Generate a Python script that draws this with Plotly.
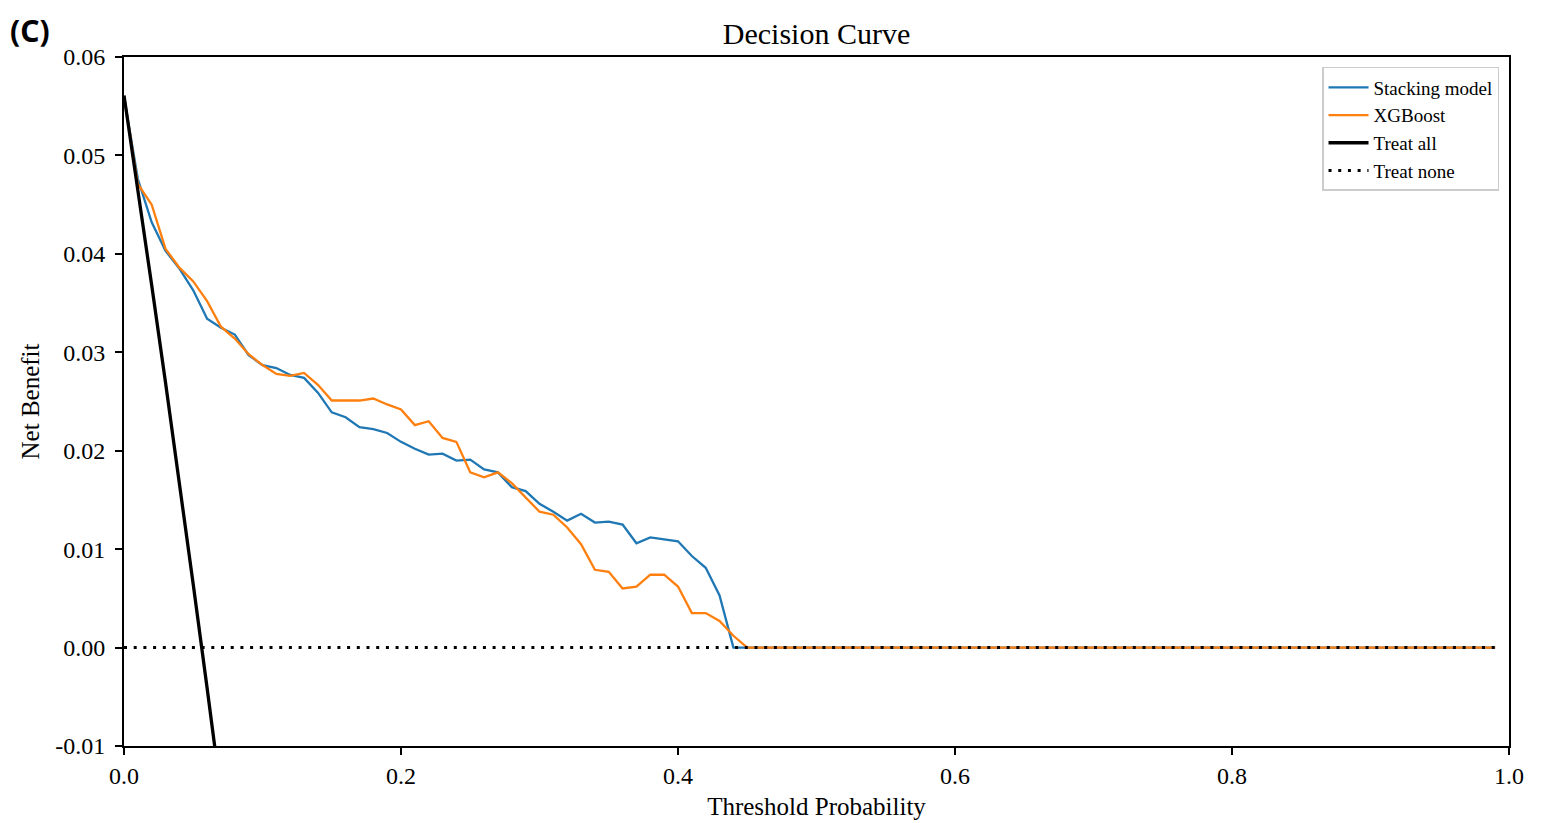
import plotly.graph_objects as go

thresholds = [round(i * 0.01, 2) for i in range(100)]

stacking_head = [0.0560, 0.0476, 0.0432, 0.0403, 0.0385, 0.0363, 0.0334, 0.0325, 0.0318, 0.0297,
                 0.0287, 0.0284, 0.0277, 0.0274, 0.0259, 0.0239, 0.0234, 0.0224, 0.0222, 0.0218,
                 0.0209, 0.0202, 0.0196, 0.0197, 0.0190, 0.0191, 0.0181, 0.0178, 0.0163, 0.0159,
                 0.0146, 0.0138, 0.0129, 0.0136, 0.0127, 0.0128, 0.0125, 0.0106, 0.0112, 0.0110,
                 0.0108, 0.0093, 0.0081, 0.0053, 0.0000]
xgboost_head = [0.0560, 0.0471, 0.0450, 0.0405, 0.0386, 0.0372, 0.0352, 0.0326, 0.0314, 0.0298,
                0.0287, 0.0278, 0.0276, 0.0279, 0.0267, 0.0251, 0.0251, 0.0251, 0.0253, 0.0247,
                0.0242, 0.0226, 0.0230, 0.0213, 0.0209, 0.0178, 0.0173, 0.0178, 0.0167, 0.0152,
                0.0138, 0.0135, 0.0122, 0.0105, 0.0079, 0.0077, 0.0060, 0.0062, 0.0074, 0.0074,
                0.0062, 0.0035, 0.0035, 0.0027, 0.0012, 0.0000]
stacking = stacking_head + [0.0] * (100 - len(stacking_head))
xgboost = xgboost_head + [0.0] * (100 - len(xgboost_head))

treat_all_x = [0.00, 0.01, 0.02, 0.03, 0.04, 0.05, 0.06, 0.07]
treat_all = [0.0561, 0.0466, 0.0368, 0.0269, 0.0168, 0.0064, -0.0041, -0.0149]
treat_none = [0.0] * 100

y_tick_vals = [-0.01, 0.00, 0.01, 0.02, 0.03, 0.04, 0.05, 0.06]
y_tick_text = ["-0.01", "0.00", "0.01", "0.02", "0.03", "0.04", "0.05", "0.06"]
x_tick_vals = [0.0, 0.2, 0.4, 0.6, 0.8, 1.0]
x_tick_text = ["0.0", "0.2", "0.4", "0.6", "0.8", "1.0"]

serif = "Liberation Serif, Times New Roman, serif"

fig = go.Figure()
fig.add_trace(go.Scatter(x=thresholds, y=stacking, mode="lines", name="Stacking model",
                         line=dict(color="#1f77b4", width=2.3)))
fig.add_trace(go.Scatter(x=thresholds, y=xgboost, mode="lines", name="XGBoost",
                         line=dict(color="#ff7f0e", width=2.3)))
fig.add_trace(go.Scatter(x=treat_all_x, y=treat_all, mode="lines", name="Treat all",
                         line=dict(color="black", width=3.3)))
fig.add_trace(go.Scatter(x=thresholds, y=treat_none, mode="lines", name="Treat none",
                         line=dict(color="black", width=3, dash="3px,6.7px")))

fig.update_layout(
    width=1536, height=815,
    margin=dict(l=116, r=35, t=49, b=77, autoexpand=False),
    paper_bgcolor="white", plot_bgcolor="white",
    font=dict(family=serif, size=24, color="black"),
    title=dict(text="Decision Curve", x=0.5264, xanchor="center", y=0.969, yanchor="middle",
               font=dict(family=serif, size=30, color="black")),
    showlegend=True,
    legend=dict(x=0.9928, y=0.9855, xanchor="right", yanchor="top",
                bgcolor="rgba(255,255,255,0.9)", bordercolor="#cccccc", borderwidth=1.5,
                font=dict(family=serif, size=19, color="black"),
                tracegroupgap=0, itemwidth=40),
)
fig.update_xaxes(range=[0, 1], tickvals=x_tick_vals, ticktext=x_tick_text,
                 showgrid=False, zeroline=False, showline=True, mirror=True,
                 linecolor="black", linewidth=2, ticks="outside", ticklen=7, tickwidth=2,
                 tickcolor="black", automargin=False,
                 title=dict(text="Threshold Probability", standoff=10,
                            font=dict(family=serif, size=25)))
fig.update_yaxes(range=[-0.01, 0.06], tickvals=y_tick_vals, ticktext=y_tick_text,
                 showgrid=False, zeroline=False, showline=True, mirror=True,
                 linecolor="black", linewidth=2, ticks="outside", ticklen=7, tickwidth=2,
                 tickcolor="black", automargin=False, ticklabelstandoff=5,
                 title=dict(text="Net Benefit", standoff=8,
                            font=dict(family=serif, size=25)))

fig.add_annotation(text="(C)", xref="paper", yref="paper", x=-0.0834, y=1.071,
                   xanchor="left", yanchor="top", showarrow=False,
                   font=dict(family="Noto Sans", size=30, color="black", weight="bold"))

fig.write_html("out.html")
